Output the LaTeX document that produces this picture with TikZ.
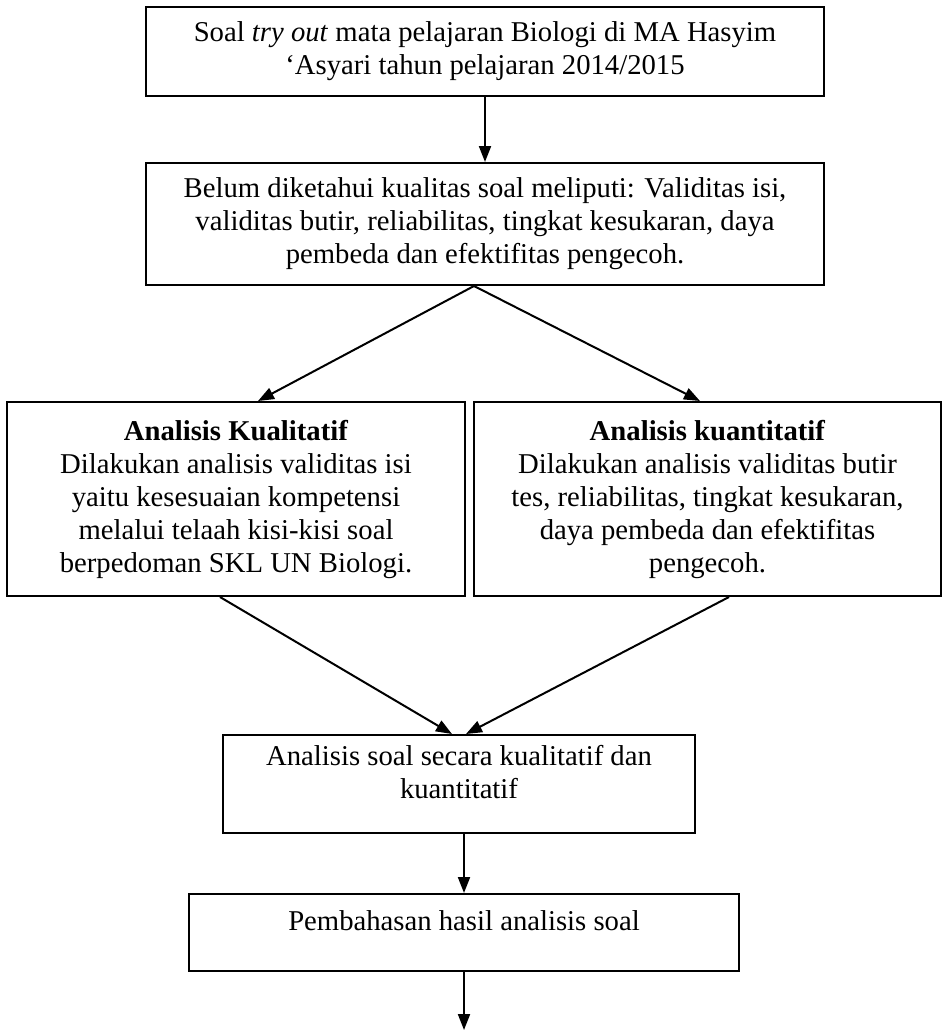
\documentclass[tikz,border=0pt]{standalone}
\usepackage{fontspec}
\setmainfont{Liberation Serif}
\usetikzlibrary{arrows.meta}
\tikzset{
  kotak/.style={rectangle, draw=black, line width=2pt, align=center, inner sep=0pt,
    font=\fontsize{28.7pt}{33pt}\selectfont},
  kotakatas/.style={kotak, text depth=24pt},
  panah/.style={-{Triangle[length=16pt,width=12pt]}, line width=2pt, draw=black}
}

\begin{document}
\begin{tikzpicture}[x=1pt, y=-1pt]
\useasboundingbox (0,0) rectangle (943,1031);
\node[kotak, minimum width=678pt, minimum height=89pt] (soal) at (485,51.5)
  {Soal \textit{try out} mata pelajaran Biologi di MA Hasyim\\`Asyari tahun pelajaran 2014/2015};
\node[kotak, minimum width=678pt, minimum height=122pt] (kualitas) at (485,224)
  {Belum diketahui kualitas soal meliputi: Validitas isi,\\validitas butir, reliabilitas, tingkat kesukaran, daya\\pembeda dan efektifitas pengecoh.};
\node[kotak, minimum width=458pt, minimum height=194pt] (kualitatif) at (236,499)
  {\textbf{Analisis Kualitatif}\\Dilakukan analisis validitas isi\\yaitu kesesuaian kompetensi\\melalui telaah kisi-kisi soal\\berpedoman SKL UN Biologi.};
\node[kotak, minimum width=467pt, minimum height=194pt] (kuantitatif) at (707.5,499)
  {\textbf{Analisis kuantitatif}\\Dilakukan analisis validitas butir\\tes, reliabilitas, tingkat kesukaran,\\daya pembeda dan efektifitas\\pengecoh.};
\node[kotakatas, minimum width=472pt, minimum height=98pt] (analisis) at (459,784)
  {Analisis soal secara kualitatif dan\\kuantitatif};
\node[kotakatas, minimum width=550pt, minimum height=77pt] (pembahasan) at (464,932.5)
  {Pembahasan hasil analisis soal};
\coordinate (akhir) at (464,1030);
\draw[panah] (soal) -- (kualitas);
\draw[panah] ([xshift=-11pt]kualitas.south) -- ([xshift=22pt]kualitatif.north);
\draw[panah] ([xshift=-11pt]kualitas.south) -- ([xshift=-7.5pt]kuantitatif.north);
\draw[panah] ([xshift=-16pt]kualitatif.south) -- ([xshift=-7pt]analisis.north);
\draw[panah] ([xshift=21.5pt]kuantitatif.south) -- ([xshift=7pt]analisis.north);
\draw[panah] (pembahasan.north |- analisis.south) -- (pembahasan.north);
\draw[panah] (pembahasan) -- (akhir);
\end{tikzpicture}
\end{document}
